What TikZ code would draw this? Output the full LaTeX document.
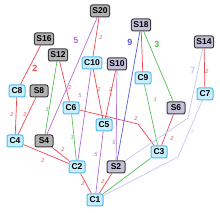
\documentclass[tikz,border=0pt]{standalone}
\usepackage{fontspec}
\setmainfont{Liberation Sans}
\usetikzlibrary{backgrounds}
\begin{document}
\begin{tikzpicture}[x=1pt,y=-1pt,
  cnode/.style={draw=cborder,fill=cfill,rounded corners=2pt,line width=1pt,
    minimum height=12pt,minimum width=16pt,inner xsep=2pt,inner ysep=0pt,
    font=\fontsize{8.5}{9}\selectfont\bfseries},
  snode/.style={draw=sborder,fill=sgray,rounded corners=2pt,line width=1pt,
    minimum height=12pt,minimum width=18pt,inner xsep=2pt,inner ysep=0pt,
    font=\fontsize{8.5}{9}\selectfont\bfseries},
  lnode/.style={snode,fill=slav},
  edge/.style={line width=0.7pt},
  lab/.style={font=\fontsize{5.5}{6}\selectfont\itshape,inner sep=0pt},
  blab/.style={font=\fontsize{9}{10}\selectfont\bfseries,inner sep=0pt}]
\definecolor{cborder}{RGB}{80,185,235}
\definecolor{cfill}{RGB}{200,238,252}
\definecolor{sborder}{RGB}{60,60,65}
\definecolor{sgray}{RGB}{178,178,178}
\definecolor{slav}{RGB}{196,192,216}
\definecolor{ered}{RGB}{238,70,80}
\definecolor{egreen}{RGB}{90,190,90}
\definecolor{epurple}{RGB}{180,110,210}
\definecolor{eblue}{RGB}{90,90,220}
\definecolor{elav}{RGB}{198,198,238}
\useasboundingbox (0,0) rectangle (220,213);

\coordinate (b1) at (138,124);
\coordinate (b2) at (188,118);
\coordinate (b3) at (178,157);

% nodes
\node[snode] (S20) at (100,11) {S20};
\node[snode] (S16) at (44,39) {S16};
\node[snode] (S12) at (58,55) {S12};
\node[lnode] (S18) at (141,25) {S18};
\node[lnode] (S14) at (204,42) {S14};
\node[cnode] (C10) at (92,63) {C10};
\node[lnode] (S10) at (117,64) {S10};
\node[cnode] (C9) at (143,78) {C9};
\node[cnode] (C8) at (17,91) {C8};
\node[snode] (S8) at (39,91) {S8};
\node[cnode] (C7) at (205,94) {C7};
\node[cnode] (C6) at (71,108) {C6};
\node[lnode] (S6) at (176,108) {S6};
\node[cnode] (C5) at (104,125) {C5};
\node[cnode] (C4) at (15,141) {C4};
\node[snode] (S4) at (44,141) {S4};
\node[cnode] (C3) at (159,152) {C3};
\node[cnode] (C2) at (77,167) {C2};
\node[lnode] (S2) at (116,167) {S2};
\node[cnode] (C1) at (95,200) {C1};

\begin{pgfonlayer}{background}
% red edges
\begin{scope}[edge,ered]
\draw (S16) -- (C8);
\draw (C8) -- (C4);
\draw (S8) -- (C4);
\draw (S12) -- (C6);
\draw (S20) -- (C10);
\draw (C10) -- (C5);
\draw (S10) -- (C5);
\draw (S18) -- (C9);
\draw (S14) -- (C7);
\draw (S6) -- (C3);
\draw (C6) -- (b1) -- (C3);
\draw (C4) -- (C2);
\draw (S4) -- (C2);
\draw (C2) -- (C1);
\draw (S2) -- (C1);
\end{scope}
% green edges
\begin{scope}[edge,egreen]
\draw (S12) -- (S4);
\draw (S18) -- (S6);
\draw (C9) -- (C3);
\draw (C6) -- (C2);
\draw (C3) -- (C1);
\end{scope}
% purple edges
\begin{scope}[edge,epurple]
\draw (S20) -- (S4);
\draw (C10) -- (C2);
\draw (S10) -- (S2);
\draw (C5) -- (C1);
\end{scope}
\draw[edge,eblue] (S18) -- (S2);
\begin{scope}[edge,elav]
\draw (S14) -- (b2) -- (S2);
\draw (C7) -- (b3) -- (C1);
\end{scope}
\end{pgfonlayer}

% labels
\node[blab,ered] (l1) at (35,68) {2};
\node[lab,ered] (l2) at (12,115) {2};
\node[lab,ered] (l3) at (25,115) {2};
\node[lab,ered] (l4) at (70,88) {2};
\node[lab,ered] (l5) at (101,38) {2};
\node[lab,ered] (l6) at (99,90) {2};
\node[lab,ered] (l7) at (111,90) {2};
\node[lab,ered] (l8) at (207,72) {2};
\node[lab,ered] (l9) at (172,139) {2};
\node[lab,ered] (l10) at (136,119) {2};
\node[lab,ered] (l11) at (43,161) {2};
\node[lab,ered] (l12) at (63,150) {2};
\node[lab,ered] (l13) at (83,184) {2};
\node[lab,ered] (l14) at (103,182) {2};
\node[lab,egreen] (l15) at (47,110) {3};
\node[blab,egreen] (l16) at (157,44) {3};
\node[lab,egreen] (l17) at (155,100) {3};
\node[lab,egreen] (l18) at (72,138) {3};
\node[blab,epurple] (l19) at (76,40) {5};
\node[lab,epurple] (l20) at (80,96) {5};
\node[lab,epurple] (l21) at (114,143) {5};
\node[lab,epurple] (l22) at (96,155) {5};
\node[blab,eblue] (l23) at (130,42) {9};
\node[blab,elav] (l24) at (193,70) {7};
\node[lab,elav] (l25) at (192,133) {7};
\end{tikzpicture}
\end{document}
